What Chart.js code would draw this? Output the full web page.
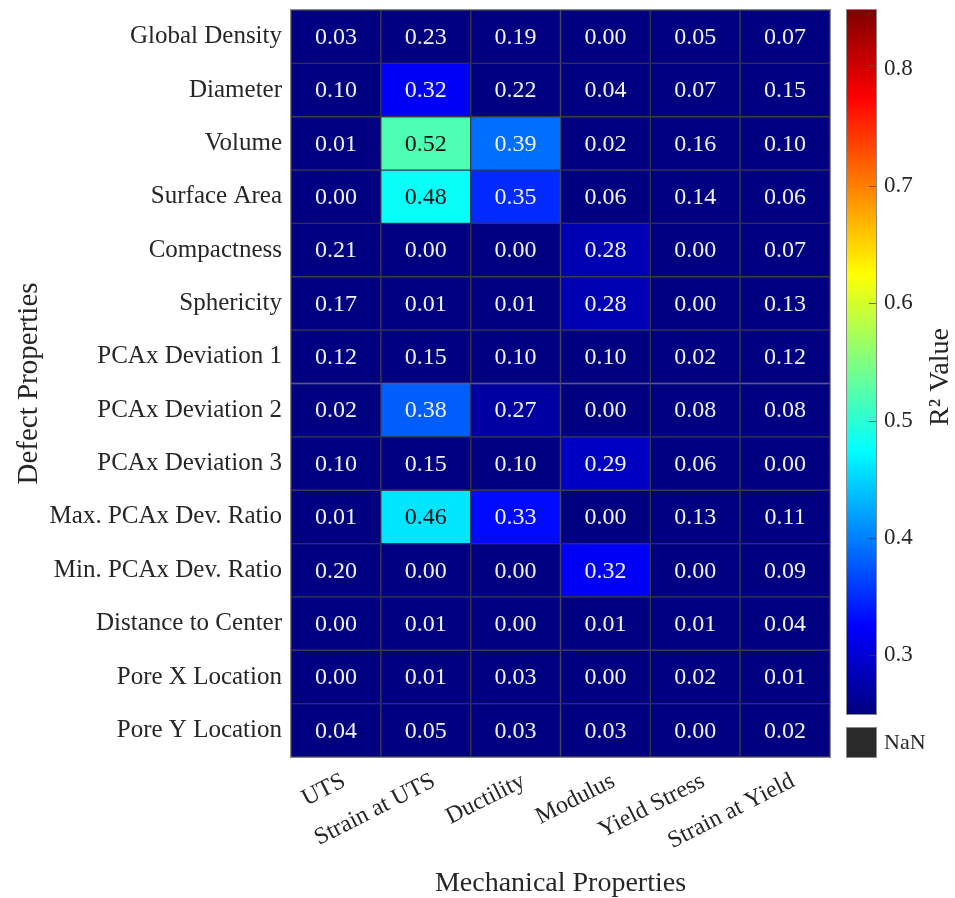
<!DOCTYPE html>
<html>
<head>
<meta charset="utf-8">
<script src="https://cdn.jsdelivr.net/npm/chart.js@4.4.1/dist/chart.umd.min.js"></script>
<style>
  html, body { margin: 0; padding: 0; background: #ffffff; }
  #wrap { position: relative; width: 955px; height: 898px; }
  #heat { position: absolute; left: 0; top: 0; }
  #cbar { position: absolute; left: 830px; top: 0; }
</style>
</head>
<body>
<div id="wrap">
  <canvas id="heat" width="955" height="898"></canvas>
  <canvas id="cbar" width="125" height="898"></canvas>
</div>
<script>
// Defect properties (rows, top to bottom)
const rowLabels = [
  'Global Density', 'Diameter', 'Volume', 'Surface Area', 'Compactness',
  'Sphericity', 'PCAx Deviation 1', 'PCAx Deviation 2', 'PCAx Deviation 3',
  'Max. PCAx Dev. Ratio', 'Min. PCAx Dev. Ratio', 'Distance to Center',
  'Pore X Location', 'Pore Y Location'
];

// Mechanical properties (columns)
const colLabels = ['UTS', 'Strain at UTS', 'Ductility', 'Modulus', 'Yield Stress', 'Strain at Yield'];

// R² of each defect property against each mechanical property
const uts           = [0.03, 0.10, 0.01, 0.00, 0.21, 0.17, 0.12, 0.02, 0.10, 0.01, 0.20, 0.00, 0.00, 0.04];
const strainAtUts   = [0.23, 0.32, 0.52, 0.48, 0.00, 0.01, 0.15, 0.38, 0.15, 0.46, 0.00, 0.01, 0.01, 0.05];
const ductility     = [0.19, 0.22, 0.39, 0.35, 0.00, 0.01, 0.10, 0.27, 0.10, 0.33, 0.00, 0.00, 0.03, 0.03];
const modulus       = [0.00, 0.04, 0.02, 0.06, 0.28, 0.28, 0.10, 0.00, 0.29, 0.00, 0.32, 0.01, 0.00, 0.03];
const yieldStress   = [0.05, 0.07, 0.16, 0.14, 0.00, 0.00, 0.02, 0.08, 0.06, 0.13, 0.00, 0.01, 0.02, 0.00];
const strainAtYield = [0.07, 0.15, 0.10, 0.06, 0.07, 0.13, 0.12, 0.08, 0.00, 0.11, 0.09, 0.04, 0.01, 0.02];

const columns = [uts, strainAtUts, ductility, modulus, yieldStress, strainAtYield];

// Colour scale range and its tick labels
const cbarMin = 0.25;
const cbarMax = 0.85;
const cbarTicks = [0.3, 0.4, 0.5, 0.6, 0.7, 0.8];

const FONT = "'Liberation Serif', 'Times New Roman', serif";
const TEXT = '#262626';

function clamp01(x) { return Math.max(0, Math.min(1, x)); }

// MATLAB-style jet colormap
function jetT(t) {
  t = clamp01(t);
  const r = clamp01(1.5 - Math.abs(4 * t - 3));
  const g = clamp01(1.5 - Math.abs(4 * t - 2));
  const b = clamp01(1.5 - Math.abs(4 * t - 1));
  return `rgb(${Math.round(r * 255)},${Math.round(g * 255)},${Math.round(b * 255)})`;
}
function jet(v) { return jetT((v - cbarMin) / (cbarMax - cbarMin)); }

// Drop the half-label overhang so the plot area sits exactly where the layout puts it
function noOverhang(scale) {
  scale.paddingTop = 0;
  scale.paddingBottom = 0;
  scale.paddingLeft = 0;
  scale.paddingRight = 0;
}

// Values printed in the middle of every cell
const cellText = {
  id: 'cellText',
  afterDatasetsDraw(chart) {
    const ctx = chart.ctx;
    ctx.save();
    ctx.font = `24px ${FONT}`;
    ctx.textAlign = 'center';
    ctx.textBaseline = 'middle';
    chart.data.datasets.forEach((ds, j) => {
      const meta = chart.getDatasetMeta(j);
      meta.data.forEach((el, i) => {
        const v = ds.values[i];
        const cx = (el.x + el.base) / 2;
        ctx.fillStyle = (v >= 0.42 && v <= 0.7) ? '#111111' : '#f2f2f2';
        ctx.fillText(v.toFixed(2), cx, el.y + 1);
      });
    });
    ctx.restore();
  }
};

const frame = {
  id: 'frame',
  afterDraw(chart) {
    const a = chart.chartArea;
    const ctx = chart.ctx;
    ctx.save();
    ctx.strokeStyle = '#8a8a8a';
    ctx.lineWidth = 1;
    ctx.strokeRect(a.left - 0.5, a.top - 0.5, a.right - a.left + 1, a.bottom - a.top + 1);
    ctx.restore();
  }
};

new Chart(document.getElementById('heat'), {
  type: 'bar',
  data: {
    labels: rowLabels,
    datasets: colLabels.map((name, j) => ({
      label: name,
      data: rowLabels.map(() => 1),
      values: columns[j],
      backgroundColor: columns[j].map(jet),
      borderColor: 'rgba(30,30,60,0.85)',
      borderWidth: 1,
      borderSkipped: false,
      barPercentage: 1,
      categoryPercentage: 1
    }))
  },
  options: {
    indexAxis: 'y',
    responsive: false,
    animation: false,
    layout: { padding: { top: 10, right: 125, bottom: 0, left: 0 } },
    plugins: { legend: { display: false }, tooltip: { enabled: false } },
    scales: {
      x: {
        type: 'linear',
        stacked: true,
        min: 0,
        max: colLabels.length,
        grid: { display: false, drawTicks: false },
        border: { display: false },
        afterBuildTicks(scale) {
          scale.ticks = colLabels.map((_, j) => ({ value: j + 0.5 }));
        },
        afterFit(scale) { scale.height = 141; noOverhang(scale); },
        ticks: {
          autoSkip: false,
          minRotation: 27,
          maxRotation: 27,
          padding: 10,
          labelOffset: 8,
          color: TEXT,
          font: { family: FONT, size: 24 },
          callback: (v) => colLabels[Math.floor(v)]
        },
        title: {
          display: true,
          text: 'Mechanical Properties',
          color: TEXT,
          font: { family: FONT, size: 28 },
          padding: { top: 0, bottom: -2 }
        }
      },
      y: {
        type: 'category',
        stacked: true,
        grid: { display: false, drawTicks: false },
        border: { display: false },
        afterFit(scale) { scale.width = 291; noOverhang(scale); },
        ticks: {
          padding: 9,
          color: TEXT,
          font: { family: FONT, size: 25 }
        },
        title: {
          display: true,
          text: 'Defect Properties',
          color: TEXT,
          font: { family: FONT, size: 29 },
          padding: { top: 12, bottom: 0 }
        }
      }
    }
  },
  plugins: [cellText, frame]
});

// Colour bar, NaN swatch and its label
const cbarDecor = {
  id: 'cbarDecor',
  afterDraw(chart) {
    const a = chart.chartArea;
    const ctx = chart.ctx;
    const y = chart.scales.y;
    ctx.save();
    ctx.strokeStyle = '#8a8a8a';
    ctx.lineWidth = 1;
    ctx.strokeRect(a.left - 0.5, a.top - 0.5, a.right - a.left + 1, a.bottom - a.top + 1);
    ctx.strokeStyle = 'rgba(60,60,60,0.7)';
    cbarTicks.forEach(v => {
      const py = Math.round(y.getPixelForValue(v)) + 0.5;
      ctx.beginPath();
      ctx.moveTo(a.right - 7, py);
      ctx.lineTo(a.right, py);
      ctx.stroke();
    });
    // NaN swatch
    const top = 728, h = 29;
    ctx.fillStyle = '#2a2a2a';
    ctx.fillRect(a.left, top, a.right - a.left, h);
    ctx.strokeStyle = '#8a8a8a';
    ctx.strokeRect(a.left - 0.5, top - 0.5, a.right - a.left + 1, h + 1);
    ctx.fillStyle = TEXT;
    ctx.font = `22px ${FONT}`;
    ctx.textAlign = 'left';
    ctx.textBaseline = 'middle';
    ctx.fillText('NaN', a.right + 8, top + h / 2 + 1);
    // colour bar title
    ctx.translate(111, 377);
    ctx.rotate(-Math.PI / 2);
    ctx.textAlign = 'center';
    ctx.font = `28px ${FONT}`;
    ctx.fillText('R² Value', 0, 0);
    ctx.restore();
  }
};

new Chart(document.getElementById('cbar'), {
  type: 'bar',
  data: {
    labels: ['R²'],
    datasets: [{
      data: [[cbarMin, cbarMax]],
      barPercentage: 1,
      categoryPercentage: 1,
      borderWidth: 0,
      backgroundColor(ctx) {
        const area = ctx.chart.chartArea;
        if (!area) return '#000080';
        const g = ctx.chart.ctx.createLinearGradient(0, area.bottom, 0, area.top);
        for (let k = 0; k <= 40; k++) g.addColorStop(k / 40, jetT(k / 40));
        return g;
      }
    }]
  },
  options: {
    responsive: false,
    animation: false,
    layout: { padding: { top: 10, right: 0, bottom: 184, left: 17 } },
    plugins: { legend: { display: false }, tooltip: { enabled: false } },
    scales: {
      x: { display: false },
      y: {
        position: 'right',
        min: cbarMin,
        max: cbarMax,
        grid: { display: false, drawTicks: false },
        border: { display: false },
        afterBuildTicks(scale) { scale.ticks = cbarTicks.map(v => ({ value: v })); },
        afterFit(scale) { scale.width = 79; noOverhang(scale); },
        ticks: {
          padding: 8,
          color: TEXT,
          font: { family: FONT, size: 23 },
          callback: (v) => v.toFixed(1)
        }
      }
    }
  },
  plugins: [cbarDecor]
});
</script>
</body>
</html>
